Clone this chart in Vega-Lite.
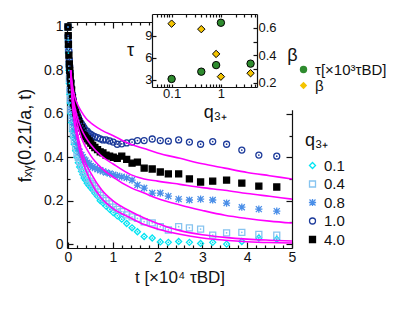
{
"$schema": "https://vega.github.io/schema/vega-lite/v6.json",
"width": 225, "height": 226,
"autosize": {"type": "none"},
"padding": {"left": 67, "top": 22, "right": 108, "bottom": 61},
"background": "white",
"config": {
 "view": {"stroke": null},
 "font": "Liberation Sans",
 "axis": {"grid": false, "domainColor": "#111", "tickColor": "#111", "labelColor": "#111", "titleColor": "#111", "titleFontWeight": "normal", "labelFontSize": 13, "titleFontSize": 16, "domainWidth": 1.2, "tickWidth": 1.2, "labelOverlap": false, "labelFlush": false},
 "legend": {"titleFontWeight": "normal", "labelColor": "#111", "titleColor": "#111"}
},
"datasets": {
 "pts": [
{"q":"0.1","t":0,"f":1},{"q":"0.1","t":0.005,"f":0.94},{"q":"0.1","t":0.01,"f":0.88},{"q":"0.1","t":0.02,"f":0.8},{"q":"0.1","t":0.03,"f":0.74},{"q":"0.1","t":0.04,"f":0.69},{"q":"0.1","t":0.05,"f":0.65},{"q":"0.1","t":0.065,"f":0.6},{"q":"0.1","t":0.08,"f":0.56},{"q":"0.1","t":0.1,"f":0.52},{"q":"0.1","t":0.12,"f":0.49},{"q":"0.1","t":0.14,"f":0.46},{"q":"0.1","t":0.17,"f":0.43},{"q":"0.1","t":0.2,"f":0.4},{"q":"0.1","t":0.23,"f":0.375},{"q":"0.1","t":0.26,"f":0.355},{"q":"0.1","t":0.3,"f":0.335},{"q":"0.1","t":0.33,"f":0.32},{"q":"0.1","t":0.36,"f":0.305},{"q":"0.1","t":0.39,"f":0.295},{"q":"0.1","t":0.43,"f":0.28},{"q":"0.1","t":0.47,"f":0.27},{"q":"0.1","t":0.51,"f":0.26},{"q":"0.1","t":0.55,"f":0.25},{"q":"0.1","t":0.6,"f":0.235},{"q":"0.1","t":0.66,"f":0.22},{"q":"0.1","t":0.72,"f":0.2},{"q":"0.1","t":0.78,"f":0.19},{"q":"0.1","t":0.85,"f":0.175},{"q":"0.1","t":0.93,"f":0.16},{"q":"0.1","t":1.01,"f":0.145},{"q":"0.1","t":1.1,"f":0.13},{"q":"0.1","t":1.2,"f":0.115},{"q":"0.1","t":1.31,"f":0.095},{"q":"0.1","t":1.43,"f":0.075},{"q":"0.1","t":1.55,"f":0.057},{"q":"0.1","t":1.7,"f":0.035},{"q":"0.1","t":1.88,"f":0.028},{"q":"0.1","t":2.06,"f":0.01},{"q":"0.1","t":2.24,"f":0.008},{"q":"0.1","t":2.47,"f":0.012},{"q":"0.1","t":2.71,"f":0.008},{"q":"0.1","t":2.96,"f":0.003},{"q":"0.1","t":3.23,"f":0.008},{"q":"0.1","t":3.54,"f":0},{"q":"0.1","t":3.88,"f":0.012},{"q":"0.1","t":4.26,"f":0.028},{"q":"0.1","t":4.66,"f":0.022},
{"q":"0.4","t":0,"f":1},{"q":"0.4","t":0.005,"f":0.95},{"q":"0.4","t":0.01,"f":0.9},{"q":"0.4","t":0.02,"f":0.82},{"q":"0.4","t":0.03,"f":0.76},{"q":"0.4","t":0.04,"f":0.71},{"q":"0.4","t":0.05,"f":0.67},{"q":"0.4","t":0.065,"f":0.62},{"q":"0.4","t":0.08,"f":0.58},{"q":"0.4","t":0.1,"f":0.54},{"q":"0.4","t":0.12,"f":0.51},{"q":"0.4","t":0.14,"f":0.48},{"q":"0.4","t":0.17,"f":0.45},{"q":"0.4","t":0.2,"f":0.42},{"q":"0.4","t":0.23,"f":0.4},{"q":"0.4","t":0.26,"f":0.38},{"q":"0.4","t":0.3,"f":0.36},{"q":"0.4","t":0.33,"f":0.345},{"q":"0.4","t":0.36,"f":0.33},{"q":"0.4","t":0.39,"f":0.32},{"q":"0.4","t":0.43,"f":0.305},{"q":"0.4","t":0.47,"f":0.29},{"q":"0.4","t":0.51,"f":0.28},{"q":"0.4","t":0.55,"f":0.27},{"q":"0.4","t":0.6,"f":0.255},{"q":"0.4","t":0.66,"f":0.24},{"q":"0.4","t":0.72,"f":0.225},{"q":"0.4","t":0.78,"f":0.21},{"q":"0.4","t":0.85,"f":0.2},{"q":"0.4","t":0.93,"f":0.185},{"q":"0.4","t":1.01,"f":0.17},{"q":"0.4","t":1.1,"f":0.16},{"q":"0.4","t":1.2,"f":0.15},{"q":"0.4","t":1.31,"f":0.135},{"q":"0.4","t":1.43,"f":0.125},{"q":"0.4","t":1.55,"f":0.118},{"q":"0.4","t":1.7,"f":0.103},{"q":"0.4","t":1.88,"f":0.098},{"q":"0.4","t":2.06,"f":0.08},{"q":"0.4","t":2.24,"f":0.065},{"q":"0.4","t":2.47,"f":0.08},{"q":"0.4","t":2.71,"f":0.075},{"q":"0.4","t":2.96,"f":0.069},{"q":"0.4","t":3.23,"f":0.041},{"q":"0.4","t":3.54,"f":0.052},{"q":"0.4","t":3.88,"f":0.054},{"q":"0.4","t":4.26,"f":0.045},{"q":"0.4","t":4.66,"f":0.041},
{"q":"0.8","t":0,"f":1},{"q":"0.8","t":0.005,"f":0.95},{"q":"0.8","t":0.01,"f":0.91},{"q":"0.8","t":0.02,"f":0.84},{"q":"0.8","t":0.03,"f":0.79},{"q":"0.8","t":0.04,"f":0.75},{"q":"0.8","t":0.05,"f":0.71},{"q":"0.8","t":0.065,"f":0.66},{"q":"0.8","t":0.08,"f":0.62},{"q":"0.8","t":0.1,"f":0.58},{"q":"0.8","t":0.12,"f":0.55},{"q":"0.8","t":0.14,"f":0.52},{"q":"0.8","t":0.17,"f":0.49},{"q":"0.8","t":0.2,"f":0.46},{"q":"0.8","t":0.23,"f":0.44},{"q":"0.8","t":0.26,"f":0.425},{"q":"0.8","t":0.3,"f":0.41},{"q":"0.8","t":0.33,"f":0.4},{"q":"0.8","t":0.36,"f":0.39},{"q":"0.8","t":0.39,"f":0.385},{"q":"0.8","t":0.43,"f":0.375},{"q":"0.8","t":0.47,"f":0.37},{"q":"0.8","t":0.51,"f":0.36},{"q":"0.8","t":0.55,"f":0.355},{"q":"0.8","t":0.6,"f":0.35},{"q":"0.8","t":0.66,"f":0.345},{"q":"0.8","t":0.72,"f":0.34},{"q":"0.8","t":0.78,"f":0.335},{"q":"0.8","t":0.85,"f":0.33},{"q":"0.8","t":0.93,"f":0.325},{"q":"0.8","t":1.01,"f":0.32},{"q":"0.8","t":1.1,"f":0.315},{"q":"0.8","t":1.2,"f":0.31},{"q":"0.8","t":1.31,"f":0.305},{"q":"0.8","t":1.43,"f":0.295},{"q":"0.8","t":1.55,"f":0.272},{"q":"0.8","t":1.7,"f":0.258},{"q":"0.8","t":1.88,"f":0.235},{"q":"0.8","t":2.06,"f":0.235},{"q":"0.8","t":2.24,"f":0.221},{"q":"0.8","t":2.47,"f":0.207},{"q":"0.8","t":2.71,"f":0.203},{"q":"0.8","t":2.96,"f":0.207},{"q":"0.8","t":3.23,"f":0.203},{"q":"0.8","t":3.54,"f":0.189},{"q":"0.8","t":3.88,"f":0.17},{"q":"0.8","t":4.26,"f":0.161},{"q":"0.8","t":4.66,"f":0.152},
{"q":"1.0","t":0,"f":1},{"q":"1.0","t":0.005,"f":0.96},{"q":"1.0","t":0.01,"f":0.93},{"q":"1.0","t":0.02,"f":0.89},{"q":"1.0","t":0.03,"f":0.85},{"q":"1.0","t":0.04,"f":0.82},{"q":"1.0","t":0.05,"f":0.79},{"q":"1.0","t":0.065,"f":0.75},{"q":"1.0","t":0.08,"f":0.72},{"q":"1.0","t":0.1,"f":0.69},{"q":"1.0","t":0.12,"f":0.665},{"q":"1.0","t":0.14,"f":0.645},{"q":"1.0","t":0.17,"f":0.62},{"q":"1.0","t":0.2,"f":0.6},{"q":"1.0","t":0.23,"f":0.585},{"q":"1.0","t":0.26,"f":0.57},{"q":"1.0","t":0.3,"f":0.555},{"q":"1.0","t":0.33,"f":0.545},{"q":"1.0","t":0.36,"f":0.535},{"q":"1.0","t":0.39,"f":0.525},{"q":"1.0","t":0.43,"f":0.52},{"q":"1.0","t":0.47,"f":0.51},{"q":"1.0","t":0.51,"f":0.505},{"q":"1.0","t":0.55,"f":0.5},{"q":"1.0","t":0.6,"f":0.495},{"q":"1.0","t":0.66,"f":0.49},{"q":"1.0","t":0.72,"f":0.485},{"q":"1.0","t":0.78,"f":0.48},{"q":"1.0","t":0.85,"f":0.48},{"q":"1.0","t":0.93,"f":0.475},{"q":"1.0","t":1.01,"f":0.47},{"q":"1.0","t":1.1,"f":0.46},{"q":"1.0","t":1.2,"f":0.462},{"q":"1.0","t":1.31,"f":0.466},{"q":"1.0","t":1.43,"f":0.47},{"q":"1.0","t":1.55,"f":0.477},{"q":"1.0","t":1.7,"f":0.477},{"q":"1.0","t":1.88,"f":0.484},{"q":"1.0","t":2.06,"f":0.477},{"q":"1.0","t":2.24,"f":0.474},{"q":"1.0","t":2.47,"f":0.48},{"q":"1.0","t":2.71,"f":0.47},{"q":"1.0","t":2.96,"f":0.46},{"q":"1.0","t":3.23,"f":0.472},{"q":"1.0","t":3.54,"f":0.46},{"q":"1.0","t":3.88,"f":0.433},{"q":"1.0","t":4.26,"f":0.41},{"q":"1.0","t":4.66,"f":0.405},
{"q":"4.0","t":0,"f":1},{"q":"4.0","t":0.005,"f":0.96},{"q":"4.0","t":0.01,"f":0.92},{"q":"4.0","t":0.02,"f":0.87},{"q":"4.0","t":0.03,"f":0.83},{"q":"4.0","t":0.04,"f":0.8},{"q":"4.0","t":0.05,"f":0.77},{"q":"4.0","t":0.065,"f":0.74},{"q":"4.0","t":0.08,"f":0.71},{"q":"4.0","t":0.1,"f":0.675},{"q":"4.0","t":0.12,"f":0.65},{"q":"4.0","t":0.14,"f":0.63},{"q":"4.0","t":0.17,"f":0.605},{"q":"4.0","t":0.2,"f":0.585},{"q":"4.0","t":0.23,"f":0.57},{"q":"4.0","t":0.26,"f":0.555},{"q":"4.0","t":0.3,"f":0.535},{"q":"4.0","t":0.33,"f":0.52},{"q":"4.0","t":0.36,"f":0.505},{"q":"4.0","t":0.39,"f":0.495},{"q":"4.0","t":0.43,"f":0.485},{"q":"4.0","t":0.47,"f":0.475},{"q":"4.0","t":0.51,"f":0.465},{"q":"4.0","t":0.55,"f":0.455},{"q":"4.0","t":0.6,"f":0.445},{"q":"4.0","t":0.66,"f":0.435},{"q":"4.0","t":0.72,"f":0.425},{"q":"4.0","t":0.78,"f":0.42},{"q":"4.0","t":0.85,"f":0.41},{"q":"4.0","t":0.93,"f":0.405},{"q":"4.0","t":1.01,"f":0.4},{"q":"4.0","t":1.1,"f":0.395},{"q":"4.0","t":1.2,"f":0.405},{"q":"4.0","t":1.31,"f":0.39},{"q":"4.0","t":1.43,"f":0.373},{"q":"4.0","t":1.55,"f":0.378},{"q":"4.0","t":1.7,"f":0.35},{"q":"4.0","t":1.88,"f":0.346},{"q":"4.0","t":2.06,"f":0.332},{"q":"4.0","t":2.24,"f":0.323},{"q":"4.0","t":2.47,"f":0.323},{"q":"4.0","t":2.71,"f":0.3},{"q":"4.0","t":2.96,"f":0.286},{"q":"4.0","t":3.23,"f":0.29},{"q":"4.0","t":3.54,"f":0.295},{"q":"4.0","t":3.88,"f":0.281},{"q":"4.0","t":4.26,"f":0.267},{"q":"4.0","t":4.66,"f":0.263}
 ],
 "fits": [
{"q":"1.0","t":0.06,"f":0.8},{"q":"1.0","t":0.1,"f":0.73},{"q":"1.0","t":0.15,"f":0.68},{"q":"1.0","t":0.2,"f":0.65},{"q":"1.0","t":0.3,"f":0.61},{"q":"1.0","t":0.4,"f":0.58},{"q":"1.0","t":0.5,"f":0.56},{"q":"1.0","t":0.75,"f":0.525},{"q":"1.0","t":1.0,"f":0.5},{"q":"1.0","t":1.4,"f":0.46},{"q":"1.0","t":1.7,"f":0.44},{"q":"1.0","t":2.0,"f":0.42},{"q":"1.0","t":2.5,"f":0.395},{"q":"1.0","t":3.0,"f":0.37},{"q":"1.0","t":3.5,"f":0.35},{"q":"1.0","t":4.0,"f":0.33},{"q":"1.0","t":4.5,"f":0.315},{"q":"1.0","t":5.0,"f":0.3},
{"q":"4.0","t":0.06,"f":0.8},{"q":"4.0","t":0.1,"f":0.7},{"q":"4.0","t":0.15,"f":0.635},{"q":"4.0","t":0.2,"f":0.59},{"q":"4.0","t":0.3,"f":0.53},{"q":"4.0","t":0.4,"f":0.49},{"q":"4.0","t":0.5,"f":0.46},{"q":"4.0","t":0.75,"f":0.405},{"q":"4.0","t":1.0,"f":0.37},{"q":"4.0","t":1.4,"f":0.32},{"q":"4.0","t":1.7,"f":0.3},{"q":"4.0","t":2.0,"f":0.29},{"q":"4.0","t":2.5,"f":0.275},{"q":"4.0","t":3.0,"f":0.26},{"q":"4.0","t":3.5,"f":0.248},{"q":"4.0","t":4.0,"f":0.233},{"q":"4.0","t":4.5,"f":0.22},{"q":"4.0","t":5.0,"f":0.207},
{"q":"0.8","t":0.06,"f":0.8},{"q":"0.8","t":0.1,"f":0.68},{"q":"0.8","t":0.15,"f":0.61},{"q":"0.8","t":0.2,"f":0.56},{"q":"0.8","t":0.3,"f":0.49},{"q":"0.8","t":0.4,"f":0.445},{"q":"0.8","t":0.5,"f":0.41},{"q":"0.8","t":0.75,"f":0.35},{"q":"0.8","t":1.0,"f":0.31},{"q":"0.8","t":1.4,"f":0.26},{"q":"0.8","t":1.7,"f":0.235},{"q":"0.8","t":2.0,"f":0.21},{"q":"0.8","t":2.5,"f":0.18},{"q":"0.8","t":3.0,"f":0.155},{"q":"0.8","t":3.5,"f":0.133},{"q":"0.8","t":4.0,"f":0.118},{"q":"0.8","t":4.5,"f":0.106},{"q":"0.8","t":5.0,"f":0.097},
{"q":"0.4","t":0.06,"f":0.8},{"q":"0.4","t":0.1,"f":0.66},{"q":"0.4","t":0.15,"f":0.58},{"q":"0.4","t":0.2,"f":0.52},{"q":"0.4","t":0.3,"f":0.43},{"q":"0.4","t":0.4,"f":0.37},{"q":"0.4","t":0.5,"f":0.33},{"q":"0.4","t":0.75,"f":0.25},{"q":"0.4","t":1.0,"f":0.2},{"q":"0.4","t":1.4,"f":0.15},{"q":"0.4","t":1.7,"f":0.12},{"q":"0.4","t":2.0,"f":0.095},{"q":"0.4","t":2.5,"f":0.062},{"q":"0.4","t":3.0,"f":0.043},{"q":"0.4","t":3.5,"f":0.031},{"q":"0.4","t":4.0,"f":0.023},{"q":"0.4","t":4.5,"f":0.018},{"q":"0.4","t":5.0,"f":0.014},
{"q":"0.1","t":0.06,"f":0.8},{"q":"0.1","t":0.1,"f":0.64},{"q":"0.1","t":0.15,"f":0.55},{"q":"0.1","t":0.2,"f":0.49},{"q":"0.1","t":0.3,"f":0.4},{"q":"0.1","t":0.4,"f":0.34},{"q":"0.1","t":0.5,"f":0.29},{"q":"0.1","t":0.75,"f":0.21},{"q":"0.1","t":1.0,"f":0.165},{"q":"0.1","t":1.4,"f":0.12},{"q":"0.1","t":1.7,"f":0.09},{"q":"0.1","t":2.0,"f":0.07},{"q":"0.1","t":2.5,"f":0.045},{"q":"0.1","t":3.0,"f":0.028},{"q":"0.1","t":3.5,"f":0.018},{"q":"0.1","t":4.0,"f":0.011},{"q":"0.1","t":4.5,"f":0.007},{"q":"0.1","t":5.0,"f":0.005}
 ],
 "inset": [
{"q":0.1,"p":"tau","v":3.1},{"q":0.4,"p":"tau","v":4.1},{"q":0.8,"p":"tau","v":5.0},{"q":1,"p":"tau","v":10.8},{"q":4,"p":"tau","v":5.2},
{"q":0.1,"p":"beta","v":0.63},{"q":0.4,"p":"beta","v":0.59},{"q":0.8,"p":"beta","v":0.41},{"q":1,"p":"beta","v":0.245},{"q":4,"p":"beta","v":0.27}
 ]
},
"layer": [
 {
  "layer": [
   {"data": {"name": "pts"},
    "mark": {"type": "point", "opacity": 1, "strokeWidth": 1.3, "size": 36},
    "encoding": {
     "x": {"field": "t", "type": "quantitative", "scale": {"domain": [-0.022, 5], "nice": false, "zero": false},
       "axis": {"orient": "bottom", "values": [0,1,2,3,4,5], "tickSize": -6, "format": "~g", "labelPadding": 8, "labelFontSize": 14, "title": "t [×10⁴ τBD]", "titleFontSize": 17, "titlePadding": 5}},
     "y": {"field": "f", "type": "quantitative", "scale": {"domain": [-0.018, 1.023], "nice": false, "zero": false},
       "axis": {"orient": "left", "values": [0,0.2,0.4,0.6,0.8,1], "tickSize": -6, "format": "~g", "labelPadding": 10, "labelFontSize": 14, "title": "fₓᵧ(0.21/a, t)", "titleFontSize": 18, "titlePadding": 9}},
     "stroke": {"field": "q", "type": "nominal", "scale": {"domain": ["0.1","0.4","0.8","1.0","4.0"], "range": ["#00e4f2","#86c4f0","#4b8fe8","#1c3a9a","#000000"]},
       "legend": {"orient": "none", "legendX": 238, "legendY": 110, "title": "q₃₊", "titleFontSize": 18, "labelFontSize": 15, "symbolSize": 36, "symbolStrokeWidth": 1.3, "rowPadding": 2.5, "titlePadding": 8, "padding": 0}},
     "fill": {"field": "q", "type": "nominal", "scale": {"domain": ["0.1","0.4","0.8","1.0","4.0"], "range": ["transparent","transparent","transparent","transparent","#000000"]},
       "legend": {"orient": "none", "legendX": 238, "legendY": 110, "title": "q₃₊", "titleFontSize": 18, "labelFontSize": 15, "symbolSize": 36, "symbolStrokeWidth": 1.3, "rowPadding": 2.5, "titlePadding": 8, "padding": 0}},
     "shape": {"field": "q", "type": "nominal", "scale": {"domain": ["0.1","0.4","0.8","1.0","4.0"], "range": ["diamond","square","M-1,-1L1,1M-1,1L1,-1M0,-1.2L0,1.2M-1.2,0L1.2,0","circle","square"]},
       "legend": {"orient": "none", "legendX": 238, "legendY": 110, "title": "q₃₊", "titleFontSize": 18, "labelFontSize": 15, "symbolSize": 36, "symbolStrokeWidth": 1.3, "rowPadding": 2.5, "titlePadding": 8, "padding": 0}}
    }},
   {"data": {"name": "pts"},
    "transform": [{"filter": {"field": "q", "oneOf": ["0.1","0.4","1.0"]}}],
    "mark": {"type": "circle", "size": 3, "opacity": 1},
    "encoding": {
     "x": {"field": "t", "type": "quantitative"},
     "y": {"field": "f", "type": "quantitative"},
     "color": {"field": "q", "type": "nominal", "scale": {"domain": ["0.1","0.4","1.0"], "range": ["#00e4f2","#86c4f0","#1c3a9a"]}, "legend": null}
    }},
   {"data": {"name": "fits"},
    "mark": {"type": "line", "color": "#ff00ff", "strokeWidth": 1.6, "interpolate": "monotone"},
    "encoding": {
     "x": {"field": "t", "type": "quantitative"},
     "y": {"field": "f", "type": "quantitative"},
     "detail": {"field": "q", "type": "nominal"}
    }}
  ]
 },
 {"data": {"name": "pts"},
  "mark": {"type": "point", "opacity": 0},
  "encoding": {
   "x": {"field": "t", "type": "quantitative", "scale": {"domain": [-0.022, 5], "nice": false, "zero": false},
     "axis": {"orient": "top", "values": [0,1,2,3,4,5], "tickSize": -6, "labels": false, "title": null}},
   "y": {"field": "f", "type": "quantitative", "scale": {"domain": [-0.018, 1.023], "nice": false, "zero": false},
     "axis": {"orient": "right", "values": [0,0.2,0.4,0.6,0.8,1], "tickSize": -6, "labels": false, "title": null}}
  }},
 {"data": {"name": "pts"},
  "mark": {"type": "point", "opacity": 0},
  "encoding": {
   "x": {"field": "t", "type": "quantitative", "scale": {"domain": [-0.022, 5], "nice": false, "zero": false},
     "axis": {"orient": "bottom", "values": [0.2,0.4,0.6,0.8,1.2,1.4,1.6,1.8,2.2,2.4,2.6,2.8,3.2,3.4,3.6,3.8,4.2,4.4,4.6,4.8], "tickSize": -3, "labels": false, "domain": false, "title": null}},
   "y": {"field": "f", "type": "quantitative", "scale": {"domain": [-0.018, 1.023], "nice": false, "zero": false},
     "axis": {"orient": "left", "values": [0.1,0.3,0.5,0.7,0.9], "tickSize": -3, "labels": false, "domain": false, "title": null}}
  }},
 {"data": {"name": "pts"},
  "mark": {"type": "point", "opacity": 0},
  "encoding": {
   "x": {"field": "t", "type": "quantitative", "scale": {"domain": [-0.022, 5], "nice": false, "zero": false},
     "axis": {"orient": "top", "values": [0.2,0.4,0.6,0.8,1.2,1.4,1.6,1.8,2.2,2.4,2.6,2.8,3.2,3.4,3.6,3.8,4.2,4.4,4.6,4.8], "tickSize": -3, "labels": false, "domain": false, "title": null}},
   "y": {"field": "f", "type": "quantitative", "scale": {"domain": [-0.018, 1.023], "nice": false, "zero": false},
     "axis": {"orient": "right", "values": [0.1,0.3,0.5,0.7,0.9], "tickSize": -3, "labels": false, "domain": false, "title": null}}
  }},
 {"data": {"values": [{}]},
  "mark": {"type": "rect", "fill": "white"},
  "encoding": {
   "x": {"datum": 0.04, "type": "quantitative", "scale": {"type": "log", "domain": [0.04, 5.4], "range": [85, 190], "nice": false}, "axis": null},
   "x2": {"datum": 32},
   "y": {"datum": 13.9, "type": "quantitative", "scale": {"domain": [2, 12], "range": [65, -8], "nice": false, "zero": false}, "axis": null},
   "y2": {"datum": -1.2}
  }},
 {
  "layer": [
   {"data": {"name": "inset"},
    "transform": [{"filter": {"field": "p", "equal": "tau"}}],
    "mark": {"type": "point", "filled": true, "opacity": 1, "stroke": "black", "strokeWidth": 1, "size": 55},
    "encoding": {
     "x": {"field": "q", "type": "quantitative", "scale": {"type": "log", "domain": [0.04, 5.4], "range": [85, 190], "nice": false},
       "axis": {"orient": "bottom", "offset": -161, "values": [0.05,0.06,0.07,0.08,0.09,0.1,0.2,0.3,0.4,0.5,0.6,0.7,0.8,0.9,1,2,3,4,5], "tickSize": -3, "labelExpr": "datum.value == 0.1 || datum.value == 1 ? format(datum.value, '~g') : ''", "labelPadding": 3, "title": "q₃₊", "titleFontSize": 18, "titleX": 148, "titleY": 30, "titleBaseline": "alphabetic", "titleAlign": "center", "zindex": 1}},
     "y": {"field": "v", "type": "quantitative", "scale": {"domain": [2, 12], "range": [65, -8], "nice": false, "zero": false},
       "axis": {"orient": "left", "offset": -85, "values": [3,6,9], "tickSize": -4, "labelPadding": 4, "title": "τ", "titleAngle": 0, "titleFontSize": 18, "titleX": -22, "titleY": 28, "titleBaseline": "middle", "titleAlign": "center", "zindex": 1}},
     "fill": {"field": "p", "type": "nominal", "scale": {"domain": ["tau","beta"], "range": ["#2e8b2e","#f4c400"]},
       "legend": {"orient": "none", "legendX": 229, "legendY": 40, "title": null, "labelFontSize": 15, "symbolSize": 55, "symbolStrokeColor": "black", "symbolStrokeWidth": 1, "rowPadding": 0, "padding": 0, "labelExpr": "datum.value == 'tau' ? 'τ[×10³τBD]' : 'β'"}},
     "shape": {"field": "p", "type": "nominal", "scale": {"domain": ["tau","beta"], "range": ["circle","diamond"]},
       "legend": {"orient": "none", "legendX": 229, "legendY": 40, "title": null, "labelFontSize": 15, "symbolSize": 55, "symbolStrokeColor": "black", "symbolStrokeWidth": 1, "rowPadding": 0, "padding": 0, "labelExpr": "datum.value == 'tau' ? 'τ[×10³τBD]' : 'β'"}}
    }},
   {"data": {"name": "inset"},
    "transform": [{"filter": {"field": "p", "equal": "beta"}}],
    "mark": {"type": "point", "filled": true, "opacity": 1, "stroke": "black", "strokeWidth": 1, "size": 55},
    "encoding": {
     "x": {"field": "q", "type": "quantitative", "scale": {"type": "log", "domain": [0.04, 5.4], "range": [85, 190], "nice": false},
       "axis": {"orient": "top", "offset": 8, "values": [0.05,0.06,0.07,0.08,0.09,0.1,0.2,0.3,0.4,0.5,0.6,0.7,0.8,0.9,1,2,3,4,5], "tickSize": -3, "labels": false, "title": null, "zindex": 1}},
     "y": {"field": "v", "type": "quantitative", "scale": {"domain": [0.17, 0.7], "range": [65, -8], "nice": false, "zero": false},
       "axis": {"orient": "right", "offset": -35, "values": [0.2,0.3,0.4,0.5,0.6], "tickSize": -4, "labelExpr": "datum.value == 0.3 || datum.value == 0.5 ? '' : format(datum.value, '.1f')", "labelPadding": 5, "title": "β", "titleAngle": 0, "titleFontSize": 18, "titleX": 35, "titleY": 33, "titleBaseline": "middle", "titleAlign": "center", "zindex": 1}},
     "fill": {"field": "p", "type": "nominal", "scale": {"domain": ["tau","beta"], "range": ["#2e8b2e","#f4c400"]},
       "legend": {"orient": "none", "legendX": 229, "legendY": 40, "title": null, "labelFontSize": 15, "symbolSize": 55, "symbolStrokeColor": "black", "symbolStrokeWidth": 1, "rowPadding": 0, "padding": 0, "labelExpr": "datum.value == 'tau' ? 'τ[×10³τBD]' : 'β'"}},
     "shape": {"field": "p", "type": "nominal", "scale": {"domain": ["tau","beta"], "range": ["circle","diamond"]},
       "legend": {"orient": "none", "legendX": 229, "legendY": 40, "title": null, "labelFontSize": 15, "symbolSize": 55, "symbolStrokeColor": "black", "symbolStrokeWidth": 1, "rowPadding": 0, "padding": 0, "labelExpr": "datum.value == 'tau' ? 'τ[×10³τBD]' : 'β'"}}
    }}
  ],
  "resolve": {"scale": {"x": "independent", "y": "independent"}}
 }
],
"resolve": {"scale": {"x": "independent", "y": "independent", "fill": "independent", "shape": "independent", "stroke": "independent", "color": "independent"}}
}
